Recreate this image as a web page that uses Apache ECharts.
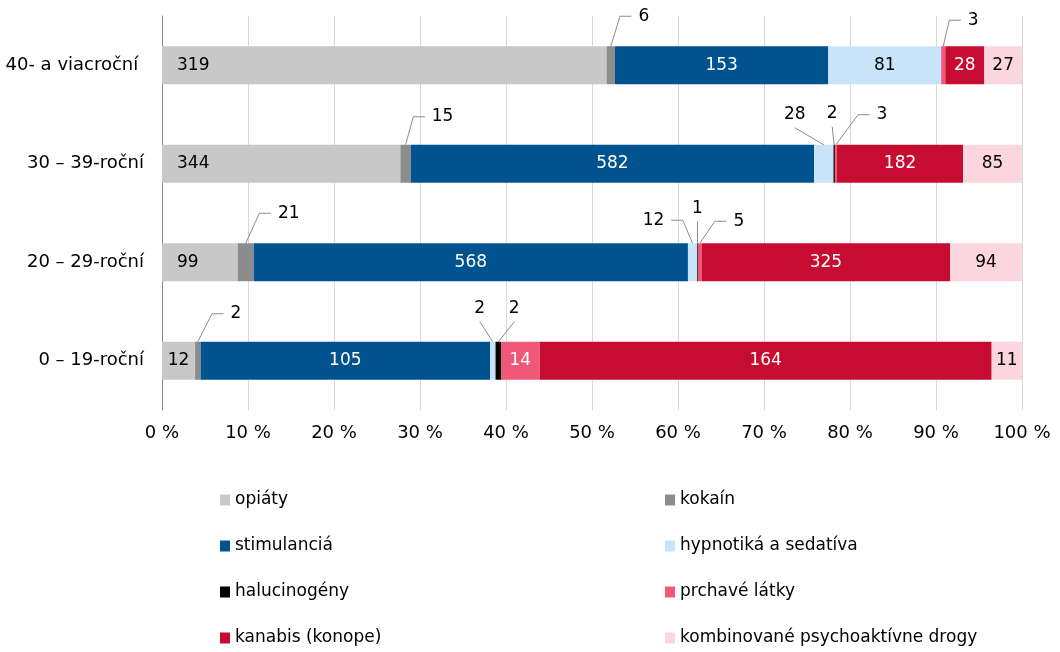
<!DOCTYPE html>
<html>
<head>
<meta charset="utf-8">
<title>Drogy podľa vekových skupín</title>
<script src="https://cdn.jsdelivr.net/npm/echarts@6/dist/echarts.min.js"></script>
<style>
  html, body { margin: 0; padding: 0; background: #fff; }
  #chart { width: 1060px; height: 652px; }
</style>
</head>
<body>
<div id="chart"></div>
<script>
// vekové skupiny, zhora nadol
var vekoveSkupiny = ['40- a viacroční ', '30 – 39-roční', '20 – 29-roční', '0 – 19-roční'];

// počty podľa drogy (v poradí skupín)
var opiaty       = [319, 344,  99,  12];
var kokain       = [  6,  15,  21,   2];
var stimulancia  = [153, 582, 568, 105];
var hypnotika    = [ 81,  28,  12,   2];
var halucinogeny = [  0,   2,   1,   2];
var prchave      = [  3,   3,   5,  14];
var kanabis      = [ 28, 182, 325, 164];
var kombinovane  = [ 27,  85,  94,  11];

var nazvy = ['opiáty', 'kokaín', 'stimulanciá', 'hypnotiká a sedatíva',
             'halucinogény', 'prchavé látky', 'kanabis (konope)', 'kombinované psychoaktívne drogy'];
var hodnoty = [opiaty, kokain, stimulancia, hypnotika, halucinogeny, prchave, kanabis, kombinovane];
var farby = ['#c8c8c8', '#8c8c8c', '#00538f', '#c8e4fa', '#000000', '#f0587a', '#c60c31', '#fbd6de'];
var farbyTextu = ['#000', '#000', '#fff', '#000', '#fff', '#fff', '#fff', '#000'];

// popisky malých úsekov mimo stĺpca (séria, skupina, posun od stredu hornej hrany, zalomená čiara)
var vynesene = [
  {s: 1, c: 0, dx: 33, dy: -30, zlom: true},
  {s: 5, c: 0, dx: 30, dy: -26, zlom: true},
  {s: 1, c: 1, dx: 37, dy: -28, zlom: true},
  {s: 3, c: 1, dx: -29, dy: -30, zlom: false},
  {s: 4, c: 1, dx: -2, dy: -31, zlom: false},
  {s: 5, c: 1, dx: 46, dy: -30, zlom: true},
  {s: 1, c: 2, dx: 43, dy: -30, zlom: true},
  {s: 3, c: 2, dx: -39, dy: -23, zlom: true},
  {s: 4, c: 2, dx: 0, dy: -35, zlom: false},
  {s: 5, c: 2, dx: 39, dy: -22, zlom: true},
  {s: 1, c: 3, dx: 38, dy: -28, zlom: true},
  {s: 3, c: 3, dx: -13, dy: -33, zlom: false},
  {s: 4, c: 3, dx: 16, dy: -33, zlom: false}
];

var FONT = 'DejaVu Sans';
var BAR_W = 38;

var sucty = vekoveSkupiny.map(function (g, c) {
  var t = 0;
  hodnoty.forEach(function (arr) { t += arr[c]; });
  return t;
});
var percenta = hodnoty.map(function (arr) {
  return arr.map(function (v, c) { return v / sucty[c] * 100; });
});

function jeVynesena(s, c) {
  for (var i = 0; i < vynesene.length; i++) {
    if (vynesene[i].s === s && vynesene[i].c === c) return true;
  }
  return false;
}

var series = hodnoty.map(function (arr, s) {
  return {
    name: nazvy[s],
    type: 'bar',
    stack: 'spolu',
    barWidth: BAR_W,
    itemStyle: { color: farby[s] },
    label: {
      show: true,
      color: farbyTextu[s],
      fontSize: 17,
      fontFamily: FONT,
      formatter: function (p) {
        var v = hodnoty[s][p.dataIndex];
        if (!v || jeVynesena(s, p.dataIndex)) return '';
        return String(v);
      }
    },
    data: percenta[s].map(function (pct) {
      return {
        value: pct,
        label: (s === 0 && pct > 6) ? { position: 'insideLeft', distance: 15 } : { position: 'inside' }
      };
    })
  };
});

// stred každého vyneseného úseku na osi x
var dataPopisiek = vynesene.map(function (k, i) {
  var zaciatok = 0;
  for (var s = 0; s < k.s; s++) zaciatok += percenta[s][k.c];
  return [zaciatok + percenta[k.s][k.c] / 2, k.c, i];
});

series.push({
  type: 'custom',
  name: 'popisky',
  silent: true,
  z: 10,
  encode: { x: 0, y: 1 },
  data: dataPopisiek,
  renderItem: function (params, api) {
    var k = vynesene[api.value(2)];
    var p = api.coord([api.value(0), api.value(1)]);
    var hore = p[1] - BAR_W / 2;
    var lx = p[0] + k.dx;
    var ly = hore + k.dy;
    var txt = String(hodnoty[k.s][k.c]);
    var body;
    if (k.zlom) {
      var smer = k.dx > 0 ? 1 : -1;
      var okraj = lx - smer * (txt.length * 5.4 + 7);
      body = [[p[0], hore], [okraj - smer * 11.5, ly], [okraj, ly]];
    } else {
      body = [[p[0], hore], [lx, ly + 13]];
    }
    return {
      type: 'group',
      children: [
        { type: 'polyline', shape: { points: body },
          style: { stroke: '#8c8c8c', lineWidth: 1, fill: null } },
        { type: 'text', x: lx, y: ly,
          style: { text: txt, fill: '#000', fontSize: 17, fontFamily: FONT,
                   align: 'center', verticalAlign: 'middle',
                   textAlign: 'center', textVerticalAlign: 'middle' } }
      ]
    };
  }
});

var legendaStyl = {
  orient: 'vertical', top: 490, height: 162, padding: 0,
  icon: 'rect', itemWidth: 10, itemHeight: 11, itemGap: 26,
  textStyle: { fontSize: 17, fontFamily: FONT, color: '#000', lineHeight: 20 },
  selectedMode: false
};

var chart = echarts.init(document.getElementById('chart'), null, { renderer: 'canvas' });
chart.setOption({
  animation: false,
  backgroundColor: '#fff',
  textStyle: { fontFamily: FONT },
  grid: { left: 162, right: 38, top: 16, height: 394, outerBoundsMode: 'none' },
  legend: [
    echarts.util.extend({ data: [nazvy[0], nazvy[2], nazvy[4], nazvy[6]], left: 220 }, legendaStyl),
    echarts.util.extend({ data: [nazvy[1], nazvy[3], nazvy[5], nazvy[7]], left: 665 }, legendaStyl)
  ],
  xAxis: {
    type: 'value',
    min: 0, max: 100, interval: 10,
    axisLine: { show: false },
    axisTick: { show: false },
    splitLine: { lineStyle: { color: '#d9d9d9', width: 1 } },
    axisLabel: { formatter: '{value} %', fontSize: 18, fontFamily: FONT, color: '#000', margin: 14 }
  },
  yAxis: {
    type: 'category',
    data: vekoveSkupiny,
    inverse: true,
    axisLine: { show: true, lineStyle: { color: '#868686', width: 1 } },
    axisTick: { show: false },
    axisLabel: { fontSize: 18, fontFamily: FONT, color: '#000', margin: 18 }
  },
  series: series
});
</script>
</body>
</html>
